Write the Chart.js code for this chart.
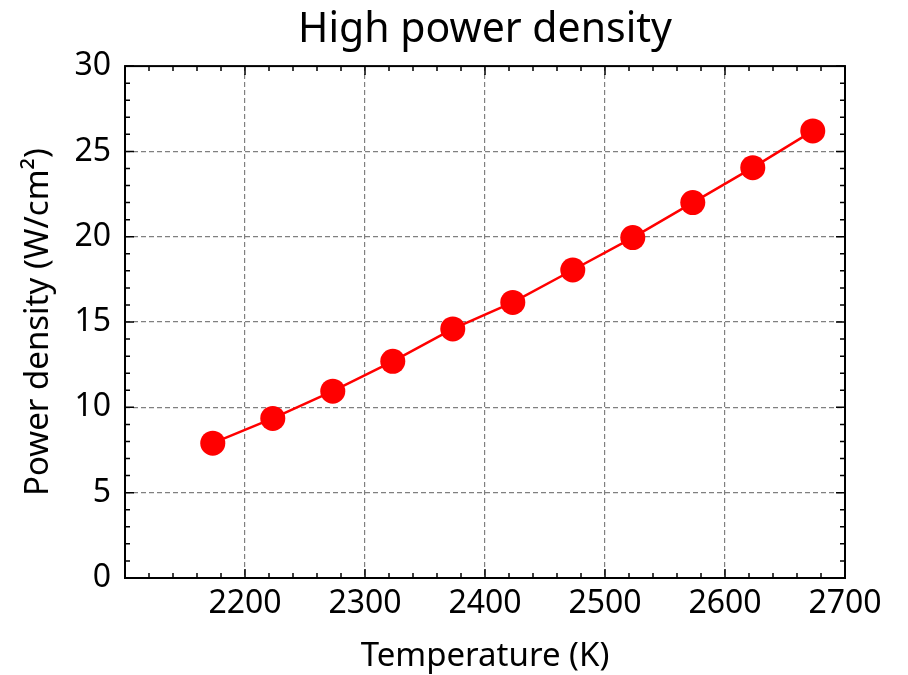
<!DOCTYPE html>
<html lang="en">
<head>
<meta charset="UTF-8">
<title>High power density</title>
<script src="https://cdn.jsdelivr.net/npm/chart.js"></script>
<style>
  html, body { margin: 0; padding: 0; background: #fff; }
</style>
</head>
<body>
<canvas id="chart" width="908" height="675"></canvas>
<script>
// temperatures (K) and power density (W/cm2)
var temperatures = [2173.15, 2223.15, 2273.15, 2323.15, 2373.15, 2423.15, 2473.15, 2523.15, 2573.15, 2623.15, 2673.15];
var powerDensity = [7.9, 9.35, 10.95, 12.7, 14.6, 16.15, 18.05, 19.95, 22.0, 24.05, 26.2];

var xTicks = [2100, 2200, 2300, 2400, 2500, 2600, 2700];
var yTicks = [0, 5, 10, 15, 20, 25, 30];

var FONT = '"Noto Sans", "DejaVu Sans", sans-serif';

// inward ticks on all four sides plus the frame
var frameTicks = {
    id: 'frameTicks',
    afterDraw: function(chart) {
        var ctx = chart.ctx, a = chart.chartArea;
        var xs = chart.scales.x, ys = chart.scales.y;
        ctx.save();
        ctx.strokeStyle = '#000';
        ctx.lineWidth = 1.5;
        ctx.beginPath();
        var v, p, len;
        for (v = 2100; v <= 2700; v += 20) {
            p = xs.getPixelForValue(v);
            len = (v % 100 === 0) ? 9 : 5;
            ctx.moveTo(p, a.bottom); ctx.lineTo(p, a.bottom - len);
            ctx.moveTo(p, a.top); ctx.lineTo(p, a.top + len);
        }
        for (v = 0; v <= 30; v += 1) {
            p = ys.getPixelForValue(v);
            len = (v % 5 === 0) ? 9 : 5;
            ctx.moveTo(a.left, p); ctx.lineTo(a.left + len, p);
            ctx.moveTo(a.right, p); ctx.lineTo(a.right - len, p);
        }
        ctx.stroke();
        ctx.lineWidth = 2;
        ctx.strokeRect(a.left, a.top, a.right - a.left, a.bottom - a.top);
        ctx.restore();
    }
};

var ctx = document.getElementById('chart').getContext('2d');
new Chart(ctx, {
    type: 'line',
    data: {
        datasets: [{
            data: temperatures.map(function(t, i) { return { x: t, y: powerDensity[i] }; }),
            borderColor: '#ff0000',
            backgroundColor: '#ff0000',
            borderWidth: 2.5,
            pointRadius: 12.5,
            pointHoverRadius: 12.5,
            pointBorderWidth: 0,
            fill: false,
            tension: 0
        }]
    },
    options: {
        responsive: false,
        animation: false,
        layout: { padding: { left: 0, right: 63, top: 0, bottom: 0 } },
        plugins: {
            legend: { display: false },
            tooltip: { enabled: false },
            title: {
                display: true,
                fullSize: false,
                text: 'High power density',
                color: '#000',
                font: { family: FONT, size: 41, weight: 'normal', lineHeight: 1.1 },
                padding: { top: 8, bottom: 13 }
            }
        },
        scales: {
            x: {
                type: 'linear',
                min: 2100,
                max: 2700,
                afterBuildTicks: function(s) { s.ticks = xTicks.map(function(v) { return { value: v }; }); },
                afterFit: function(s) { s.height = 97; },
                ticks: {
                    color: '#000',
                    padding: 8,
                    maxRotation: 0,
                    font: { family: FONT, size: 32, lineHeight: 1.1 },
                    callback: function(v) { return v === 2100 ? '' : v; }
                },
                grid: {
                    drawTicks: false,
                    color: function(c) { return (c.tick && (c.tick.value === 2100 || c.tick.value === 2700)) ? 'rgba(0,0,0,0)' : '#808080'; },
                    lineWidth: 1.2
                },
                border: { display: false, dash: [5, 3] },
                title: {
                    display: true,
                    text: 'Temperature (K)',
                    color: '#000',
                    font: { family: FONT, size: 33, lineHeight: 1.1 },
                    padding: { top: 6, bottom: 0 }
                }
            },
            y: {
                min: 0,
                max: 30,
                afterBuildTicks: function(s) { s.ticks = yTicks.map(function(v) { return { value: v }; }); },
                afterFit: function(s) { s.width = 125; },
                ticks: {
                    color: '#000',
                    padding: 14,
                    font: { family: FONT, size: 32 }
                },
                grid: {
                    drawTicks: false,
                    color: function(c) { return (c.tick && (c.tick.value === 0 || c.tick.value === 30)) ? 'rgba(0,0,0,0)' : '#808080'; },
                    lineWidth: 1.2
                },
                border: { display: false, dash: [5, 3] },
                title: {
                    display: true,
                    text: 'Power density (W/cm²)',
                    color: '#000',
                    font: { family: FONT, size: 33, lineHeight: 1.1 },
                    padding: { top: 20, bottom: 0 }
                }
            }
        }
    },
    plugins: [frameTicks]
});
</script>
</body>
</html>
